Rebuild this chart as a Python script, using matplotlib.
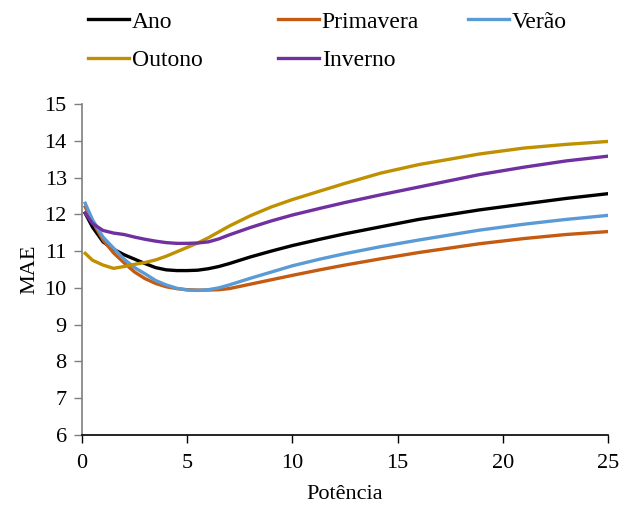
import matplotlib
matplotlib.use("Agg")
import matplotlib.pyplot as plt
import numpy as np

plt.rcParams['font.family'] = ['Liberation Serif']

# potencia (x) and MAE by season
x = [0.15, 0.5, 1.0, 1.5, 2.0, 2.5, 3.0, 3.5, 4.0, 4.5, 5.0, 5.5, 6.0, 6.5, 7.0, 8.0, 9.0, 10.0, 11.3, 12.5, 14.2, 16.0, 18.9, 21.0, 23.0, 25.0]
ano = [12.03, 11.65, 11.25, 11.05, 10.9, 10.78, 10.66, 10.55, 10.49, 10.47, 10.47, 10.48, 10.52, 10.58, 10.66, 10.84, 11.0, 11.15, 11.32, 11.47, 11.66, 11.86, 12.12, 12.28, 12.43, 12.56]
primavera = [12.2, 11.8, 11.3, 10.95, 10.68, 10.43, 10.25, 10.12, 10.03, 9.98, 9.95, 9.94, 9.94, 9.95, 9.98, 10.1, 10.22, 10.34, 10.49, 10.62, 10.79, 10.96, 11.2, 11.34, 11.45, 11.53]
verao = [12.3, 11.85, 11.38, 11.08, 10.78, 10.55, 10.38, 10.2, 10.08, 9.99, 9.94, 9.93, 9.95, 10.0, 10.08, 10.26, 10.43, 10.6, 10.78, 10.93, 11.12, 11.3, 11.57, 11.73, 11.86, 11.97]
outono = [10.94, 10.75, 10.62, 10.53, 10.58, 10.64, 10.69, 10.76, 10.86, 10.98, 11.1, 11.22, 11.36, 11.52, 11.68, 11.96, 12.2, 12.4, 12.63, 12.84, 13.12, 13.35, 13.64, 13.8, 13.9, 13.98]
inverno = [12.03, 11.75, 11.56, 11.49, 11.45, 11.38, 11.32, 11.27, 11.23, 11.21, 11.21, 11.22, 11.25, 11.33, 11.44, 11.64, 11.82, 11.98, 12.16, 12.32, 12.53, 12.74, 13.08, 13.28, 13.45, 13.58]

series = [("Ano", ano, "#000000"),
          ("Primavera", primavera, "#C55A11"),
          ("Verão", verao, "#5B9BD5"),
          ("Outono", outono, "#BF9000"),
          ("Inverno", inverno, "#7030A0")]

fig = plt.figure(figsize=(6.28, 5.07), dpi=100)
ax = fig.add_axes([0.1306, 0.142, 0.8374, 0.653])

lines = {}
for name, vals, col in series:
    lines[name], = ax.plot(x, vals, color=col, lw=2.4, label=name)

ax.set_xlim(0, 25)
ax.set_ylim(6, 15)
ax.set_xticks([0, 5, 10, 15, 20, 25])
ax.set_yticks(range(6, 16))
ax.tick_params(labelsize=16, direction='out', length=6, width=1)
ax.tick_params(axis='y', color='#7f7f7f', pad=5)
ax.tick_params(axis='x', color='#000000', pad=8)
for s in ['top', 'right']:
    ax.spines[s].set_visible(False)
ax.spines['left'].set_color('#7f7f7f')
ax.spines['left'].set_linewidth(1.2)
ax.spines['bottom'].set_color('#000000')
ax.spines['bottom'].set_linewidth(1.2)
ax.set_xlabel("Potência", fontsize=16, labelpad=8)
ax.set_ylabel("MAE", fontsize=16, labelpad=4)

# one legend per column so the columns line up like the original
cols = [(["Ano", "Outono"], 88), (["Primavera", "Inverno"], 278), (["Verão"], 468)]
for names, px in cols:
    leg = fig.legend([lines[n] for n in names], names, loc='upper left',
                     bbox_to_anchor=(px / 628, 1 - 11 / 507), frameon=False,
                     fontsize=17, handlelength=1.75, handletextpad=0.1,
                     labelspacing=0.72, borderpad=0, borderaxespad=0)

fig.savefig("out.png", dpi=100)
